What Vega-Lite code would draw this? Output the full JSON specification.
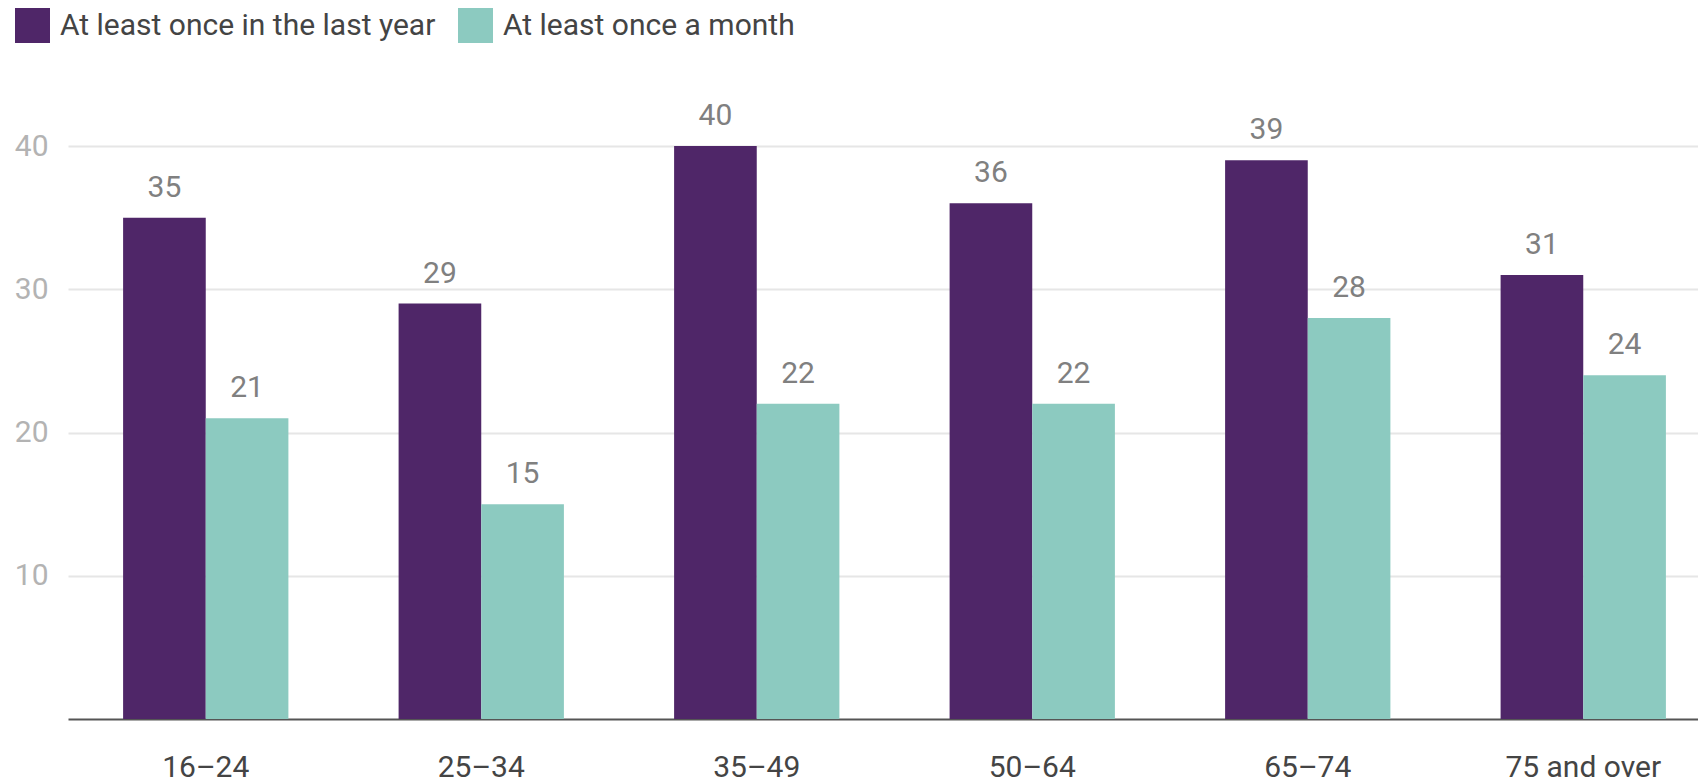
{
  "$schema": "https://vega.github.io/schema/vega-lite/v6.json",
  "autosize": {"type": "none"},
  "padding": {"left": 68, "top": 146, "right": 0, "bottom": 62},
  "width": 1630,
  "height": 573,
  "background": "white",
  "config": {
    "view": {"stroke": null},
    "font": "Roboto"
  },
  "data": {
    "values": [
      {"age": "16–24", "series": "At least once in the last year", "value": 35},
      {"age": "16–24", "series": "At least once a month", "value": 21},
      {"age": "25–34", "series": "At least once in the last year", "value": 29},
      {"age": "25–34", "series": "At least once a month", "value": 15},
      {"age": "35–49", "series": "At least once in the last year", "value": 40},
      {"age": "35–49", "series": "At least once a month", "value": 22},
      {"age": "50–64", "series": "At least once in the last year", "value": 36},
      {"age": "50–64", "series": "At least once a month", "value": 22},
      {"age": "65–74", "series": "At least once in the last year", "value": 39},
      {"age": "65–74", "series": "At least once a month", "value": 28},
      {"age": "75 and over", "series": "At least once in the last year", "value": 31},
      {"age": "75 and over", "series": "At least once a month", "value": 24}
    ]
  },
  "encoding": {
    "x": {
      "field": "age",
      "type": "nominal",
      "sort": null,
      "scale": {"range": [0, 1653], "paddingInner": 0.4, "paddingOuter": 0.2},
      "axis": {
        "title": null,
        "labelAngle": 0,
        "ticks": false,
        "labelPadding": 33,
        "labelFontSize": 30,
        "labelColor": "#444444",
        "labelFont": "Roboto",
        "domainColor": "#555555",
        "domainWidth": 2,
        "grid": false
      }
    },
    "xOffset": {
      "field": "series",
      "type": "nominal",
      "scale": {"domain": ["At least once in the last year", "At least once a month"], "paddingInner": 0, "paddingOuter": 0}
    },
    "y": {
      "field": "value",
      "type": "quantitative",
      "scale": {"domain": [0, 40], "nice": false},
      "axis": {
        "title": null,
        "values": [10, 20, 30, 40],
        "domain": false,
        "ticks": false,
        "labelPadding": 20,
        "labelFontSize": 30,
        "labelColor": "#b3b3b3",
        "labelFont": "Roboto",
        "gridColor": "#e6e6e6",
        "gridWidth": 2
      }
    }
  },
  "layer": [
    {
      "mark": {"type": "bar"},
      "encoding": {
        "color": {
          "field": "series",
          "type": "nominal",
          "scale": {
            "domain": ["At least once in the last year", "At least once a month"],
            "range": ["#4f2668", "#8ccac0"]
          },
          "legend": {
            "title": null,
            "orient": "none",
            "legendX": -53,
            "legendY": -138,
            "direction": "horizontal",
            "columns": 2,
            "columnPadding": 22,
            "symbolType": "square",
            "symbolSize": 1225,
            "symbolStrokeWidth": 0,
            "labelFontSize": 30,
            "labelFont": "Roboto",
            "labelColor": "#444444",
            "labelOffset": 10,
            "labelLimit": 600
          }
        }
      }
    },
    {
      "mark": {"type": "text", "baseline": "alphabetic", "dy": -21, "fontSize": 30, "font": "Roboto", "color": "#808080"},
      "encoding": {
        "text": {"field": "value", "type": "quantitative"}
      }
    }
  ]
}
